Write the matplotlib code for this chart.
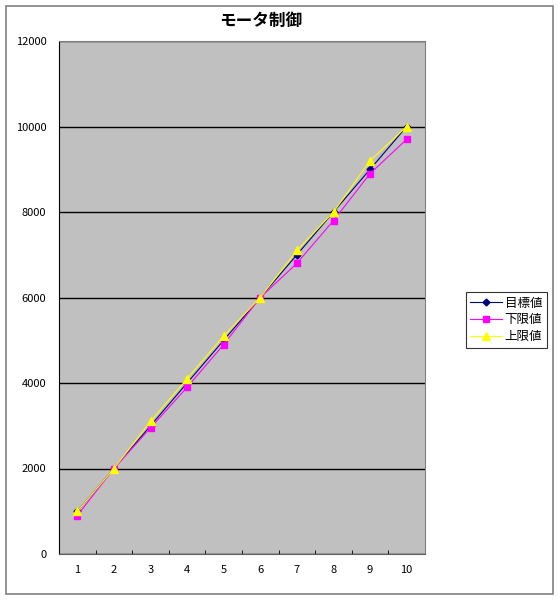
import numpy as np
import matplotlib.pyplot as plt
from matplotlib.patches import Rectangle
from matplotlib.ticker import FixedLocator, MultipleLocator

plt.rcParams['font.family'] = ['Noto Sans CJK JP', 'DejaVu Sans']

# --- Data ---
steps = [1, 2, 3, 4, 5, 6, 7, 8, 9, 10]
target = [1000, 2000, 3000, 4000, 5000, 6000, 7000, 8000, 9000, 10000]   # 目標値
lower = [900, 2000, 2950, 3900, 4900, 6000, 6800, 7800, 8900, 9700]     # 下限値
upper = [1000, 2000, 3100, 4100, 5100, 6000, 7100, 8000, 9200, 10000]   # 上限値

series = [
    (target, "目標値", "#000080", "D", 3.5),
    (lower, "下限値", "#FF00FF", "s", 4.5),
    (upper, "上限値", "#FFFF00", "^", 5.5),
]

fig = plt.figure(figsize=(5.6, 6.0), dpi=100)
fig.patches.append(Rectangle((6 / 560, 6 / 600), 547 / 560, 588 / 600,
                             transform=fig.transFigure, fill=False,
                             edgecolor="#808080", lw=1.2))

ax = fig.add_axes([59 / 560, 46 / 600, 366 / 560, 513 / 600])
ax.set_facecolor("#C0C0C0")

for vals, name, col, mk, ms in series:
    ax.plot(steps, vals, color=col, lw=0.8, marker=mk, markersize=ms,
            markeredgecolor=col, label=name)

ax.set_xlim(0.5, 10.5)
ax.set_ylim(0, 12000)
ax.yaxis.set_major_locator(MultipleLocator(2000))
ax.grid(axis="y", color="black", lw=1.0)
ax.set_axisbelow(True)

ax.xaxis.set_major_locator(FixedLocator(steps))
ax.xaxis.set_minor_locator(FixedLocator(np.arange(1.5, 10.6, 1.0)))
ax.tick_params(axis="x", which="major", length=0, pad=8, labelsize=8)
ax.tick_params(axis="x", which="minor", length=3, direction="in", color="black")
ax.tick_params(axis="y", length=0, pad=9, labelsize=8)

for side in ["top", "right"]:
    ax.spines[side].set_color("#808080")
ax.spines["left"].set_color("black")
ax.spines["bottom"].set_color("#606060")

fig.text(261 / 560, 579 / 600, "モータ制御", ha="center", va="center",
         fontsize=12, fontweight="bold")

leg = fig.legend(loc="center left", bbox_to_anchor=(466 / 560, 280 / 600),
                 fontsize=9, frameon=True, fancybox=False, handlelength=2.5,
                 borderpad=0.35, labelspacing=0.3, handletextpad=0.25,
                 borderaxespad=0)
leg.get_frame().set_edgecolor("black")
leg.get_frame().set_linewidth(0.8)

fig.savefig("out.png", dpi=100)
